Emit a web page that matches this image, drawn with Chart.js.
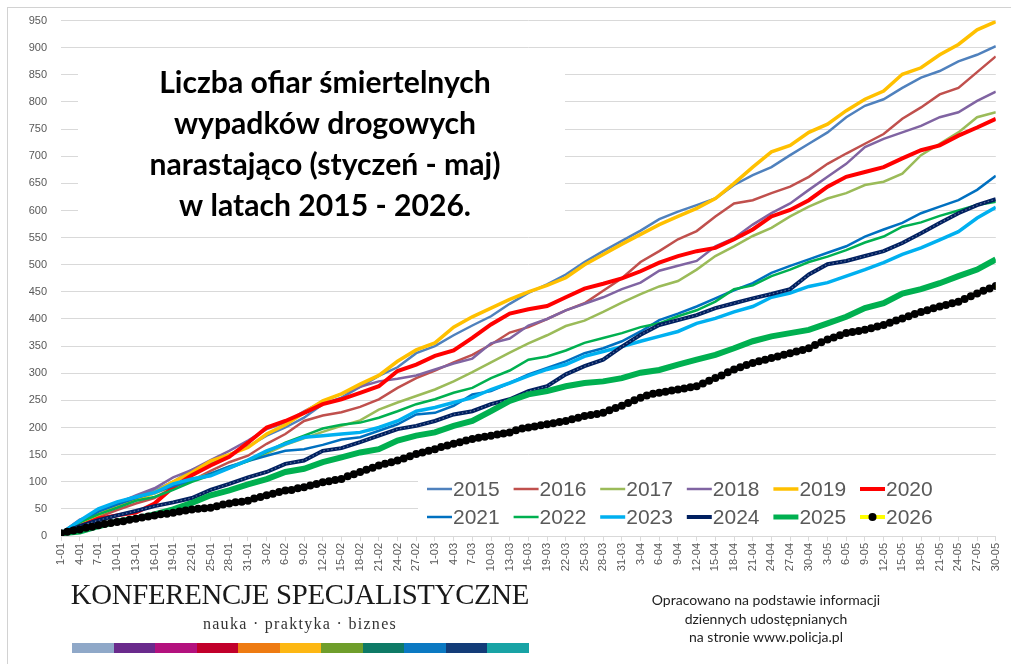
<!DOCTYPE html>
<html>
<head>
<meta charset="utf-8">
<script src="https://cdn.jsdelivr.net/npm/chart.js@4.4.1/dist/chart.umd.min.js"></script>
<style>
  html, body { margin: 0; padding: 0; background: #fff; }
  #wrap { position: relative; width: 1011px; height: 664px; overflow: hidden; }
  #frame { position: absolute; left: 7px; top: 7px; width: 1020px; height: 680px;
           border-top: 1px solid #d2d2d2; border-left: 1px solid #d2d2d2; }
  #chart { position: absolute; left: 0; top: 0; }
  .logo { position: absolute; left: 40px; top: 578px; width: 520px; text-align: center;
          font-family: "Liberation Serif", "DejaVu Serif", serif; font-size: 28.8px; color: #1a1a1a;
          letter-spacing: -0.3px; }
  .motto { position: absolute; left: 60px; top: 615px; width: 480px; text-align: center;
           font-family: "Liberation Serif", "DejaVu Serif", serif; font-size: 16px; color: #333;
           letter-spacing: 1.3px; }
  .bar { position: absolute; left: 72px; top: 643px; height: 10px; display: flex; }
  .bar span { display: block; width: 41.5px; height: 10px; }
  .source { position: absolute; left: 626px; top: 591px; width: 280px; text-align: center;
            font-family: Lato, "Open Sans", sans-serif; font-size: 14px; line-height: 18.5px; color: #222; }
</style>
</head>
<body>
<div id="wrap">
  <div id="frame"></div>
  <canvas id="chart" width="1011" height="664"></canvas>
  <div class="logo">KONFERENCJE SPECJALISTYCZNE</div>
  <div class="motto">nauka · praktyka · biznes</div>
  <div class="bar" id="bar"></div>
  <div class="source">Opracowano na podstawie informacji<br>dziennych udostępnianych<br>na stronie www.policja.pl</div>
</div>
<script>
// tick labels (every 3rd day, Jan 1 - May 30)
const dayLabels = ['1-01','4-01','7-01','10-01','13-01','16-01','19-01','22-01','25-01','28-01','31-01',
  '3-02','6-02','9-02','12-02','15-02','18-02','21-02','24-02','27-02',
  '1-03','4-03','7-03','10-03','13-03','16-03','19-03','22-03','25-03','28-03','31-03',
  '3-04','6-04','9-04','12-04','15-04','18-04','21-04','24-04','27-04','30-04',
  '3-05','6-05','9-05','12-05','15-05','18-05','21-05','24-05','27-05','30-05'];

// cumulative values read at every labelled day
const v2015 = [5,28,47,62,73,84,100,122,135,150,165,185,200,218,243,255,275,295,311,337,350,370,388,405,428,448,464,482,505,525,544,563,584,598,610,622,647,665,680,702,723,744,772,793,805,826,845,857,875,887,903];
const v2016 = [5,20,35,48,60,70,90,102,120,136,148,170,188,212,222,228,238,252,273,291,305,320,334,353,375,385,400,416,429,452,475,505,525,547,562,589,613,619,632,644,662,686,705,723,741,769,790,814,826,855,884];
const v2017 = [5,25,40,55,68,78,92,105,115,128,140,152,168,180,192,203,213,233,246,258,270,285,302,320,338,355,370,387,397,413,430,446,460,470,491,516,534,553,568,589,607,622,632,647,653,668,702,723,744,772,781];
const v2018 = [5,30,42,60,75,88,108,122,140,157,176,197,209,230,248,262,275,285,290,296,307,318,327,355,364,388,400,416,428,440,455,467,489,498,507,534,549,574,595,613,638,662,686,717,732,744,756,772,781,802,819];
const v2019 = [5,25,40,55,68,80,100,117,138,150,163,188,205,227,249,262,280,296,322,343,356,385,404,420,436,450,462,476,500,519,538,556,574,589,604,622,650,680,708,720,744,759,784,805,820,851,863,887,906,933,948];
const v2020 = [5,18,32,38,43,60,90,112,130,146,172,200,212,227,243,252,264,276,304,316,332,342,365,390,410,418,424,440,456,465,475,488,504,516,525,531,547,565,589,601,619,644,662,671,680,696,711,720,738,753,769];
const v2021 = [5,25,45,58,70,80,92,102,115,128,138,148,157,160,168,178,182,194,206,224,227,240,261,267,282,298,310,322,337,346,359,377,398,410,423,438,453,466,485,498,510,522,534,552,565,577,595,607,619,638,664];
const v2022 = [5,25,40,52,65,72,85,100,112,125,138,155,172,185,198,205,209,218,230,243,252,264,273,291,305,325,331,342,356,365,374,385,392,405,416,432,455,462,479,491,505,515,527,541,552,570,578,590,600,610,616];
const v2023 = [5,28,50,63,72,80,96,105,111,125,140,157,170,182,185,188,191,200,212,230,237,246,255,270,282,295,307,316,331,340,349,359,368,377,392,401,413,423,440,448,460,467,479,491,504,519,531,546,561,586,606];
const v2024 = [5,18,29,38,46,55,62,70,85,96,108,118,133,139,157,162,173,185,197,203,212,224,230,243,252,267,276,298,313,325,349,371,389,398,407,420,429,438,446,455,482,501,507,516,525,540,558,577,595,610,621];
const v2025 = [5,8,18,27,32,40,49,61,75,84,95,105,118,124,136,145,154,160,176,185,191,203,212,230,249,261,267,276,282,285,291,301,306,316,325,334,346,359,368,374,380,392,404,420,429,447,455,466,479,491,510];
// 2026 is plotted day by day (dots), Jan 1 .. May 30
const v2026 = [5,8,10,12,15,17,20,22,24,26,27,30,32,34,36,38,40,41,43,45,47,49,50,51,52,55,58,60,62,63,
  65,69,72,75,78,81,84,85,88,90,93,96,99,101,103,105,110,114,118,122,126,130,133,136,139,143,147,151,154,157,
  160,164,167,170,173,176,179,181,183,185,187,189,191,195,198,200,202,204,206,208,210,212,215,218,221,223,225,227,232,236,
  240,245,250,255,259,262,264,266,268,270,272,274,276,281,286,291,296,302,307,311,315,319,322,325,328,331,334,337,340,343,
  346,352,357,362,366,370,374,376,378,380,383,386,389,393,397,401,405,409,413,416,420,423,426,429,432,437,442,447,452,456,461];

const years = ['2015','2016','2017','2018','2019','2020','2021','2022','2023','2024','2025','2026'];
const seriesData = [v2015, v2016, v2017, v2018, v2019, v2020, v2021, v2022, v2023, v2024, v2025, v2026];
const colors = ['#4F81BD','#C0504D','#9BBB59','#8064A2','#FFC000','#FF0000','#0070C0','#00B050','#00B0F0','#002060','#00B050','#FFFF00'];
const widths = [2.5, 2.5, 2.5, 2.5, 3.5, 4, 2.5, 2.5, 3.5, 4, 6, 4];

// 12 colour bar of the logo
const barColors = ['#8FA8C8','#6A2A8C','#B3117E','#C1002B','#EE7B12','#FDB713','#6F9E2B','#0E7A66','#0B79C2','#133C78','#18A3A5'];
document.getElementById('bar').innerHTML = barColors.map(c => '<span style="background:' + c + '"></span>').join('');

const datasets = years.map((y, i) => {
    const daily = (y === '2026');
    return {
        label: y,
        data: seriesData[i].map((v, j) => ({ x: daily ? j : j * 3, y: v })),
        borderColor: colors[i],
        borderWidth: widths[i],
        pointRadius: daily ? 4 : 0,
        pointBackgroundColor: '#000',
        pointBorderColor: '#000',
        pointBorderWidth: 0,
        tension: 0,
        order: 20 - i
    };
});
// faint dotted texture on top of the 2024 line
datasets.push({
    label: '2024 texture',
    data: v2024.map((v, j) => ({ x: j * 3, y: v })),
    borderColor: 'rgba(150,160,190,0.6)',
    borderWidth: 1.2,
    borderDash: [1.5, 2.5],
    pointRadius: 0,
    order: 10.5
});

const overlays = {
    id: 'overlays',
    afterDraw(chart) {
        const ctx = chart.ctx;
        ctx.save();
        // title box
        ctx.fillStyle = '#fff';
        ctx.fillRect(78, 55, 487, 162);
        const lines = ['Liczba ofiar śmiertelnych', 'wypadków drogowych', 'narastająco (styczeń - maj)', 'w latach 2015 - 2026.'];
        ctx.font = 'bold 28px Lato, "Open Sans", sans-serif';
        const w = ctx.measureText(lines[2]).width;
        const size = 28 * 351 / w;
        ctx.font = 'bold ' + size.toFixed(2) + 'px Lato, "Open Sans", sans-serif';
        ctx.fillStyle = '#000';
        ctx.textAlign = 'center';
        ctx.textBaseline = 'middle';
        lines.forEach((t, i) => ctx.fillText(t, 325, 83 + i * 41));

        // legend
        ctx.fillStyle = '#fff';
        ctx.fillRect(418, 474, 590, 58);
        ctx.font = '21px "Liberation Sans", Arial, sans-serif';
        ctx.textAlign = 'left';
        years.forEach((y, i) => {
            const col = i % 6, row = Math.floor(i / 6);
            const x = 427 + col * 86.6;
            const yy = 489 + row * 28;
            ctx.strokeStyle = colors[i];
            ctx.lineWidth = Math.min(widths[i], 5);
            ctx.beginPath();
            ctx.moveTo(x, yy);
            ctx.lineTo(x + 25, yy);
            ctx.stroke();
            if (y === '2026') {
                ctx.fillStyle = '#000';
                ctx.beginPath();
                ctx.arc(x + 12.5, yy, 4, 0, Math.PI * 2);
                ctx.fill();
            }
            ctx.fillStyle = '#595959';
            ctx.fillText(y, x + 26, yy + 1);
        });
        ctx.restore();
    }
};

new Chart(document.getElementById('chart'), {
    type: 'line',
    data: { datasets: datasets },
    options: {
        responsive: false,
        animation: false,
        events: [],
        layout: { padding: { top: 16, right: 10, left: 0, bottom: 0 } },
        plugins: { legend: { display: false }, tooltip: { enabled: false } },
        scales: {
            x: {
                type: 'linear',
                min: 0,
                max: 150,
                afterFit: s => { s.height = 128; },
                grid: { drawOnChartArea: false, color: '#D9D9D9', tickLength: 5 },
                border: { color: '#D9D9D9' },
                ticks: {
                    stepSize: 3,
                    autoSkip: false,
                    minRotation: 90,
                    maxRotation: 90,
                    padding: 2,
                    color: '#595959',
                    font: { family: '"Liberation Sans", Arial, sans-serif', size: 11 },
                    callback: v => dayLabels[v / 3]
                }
            },
            y: {
                min: 0,
                max: 950,
                afterFit: s => { s.width = 61; },
                grid: { color: '#D9D9D9', drawTicks: false },
                border: { display: false },
                ticks: {
                    stepSize: 50,
                    padding: 14,
                    color: '#595959',
                    font: { family: '"Liberation Sans", Arial, sans-serif', size: 11 }
                }
            }
        }
    },
    plugins: [overlays]
});
</script>
</body>
</html>
